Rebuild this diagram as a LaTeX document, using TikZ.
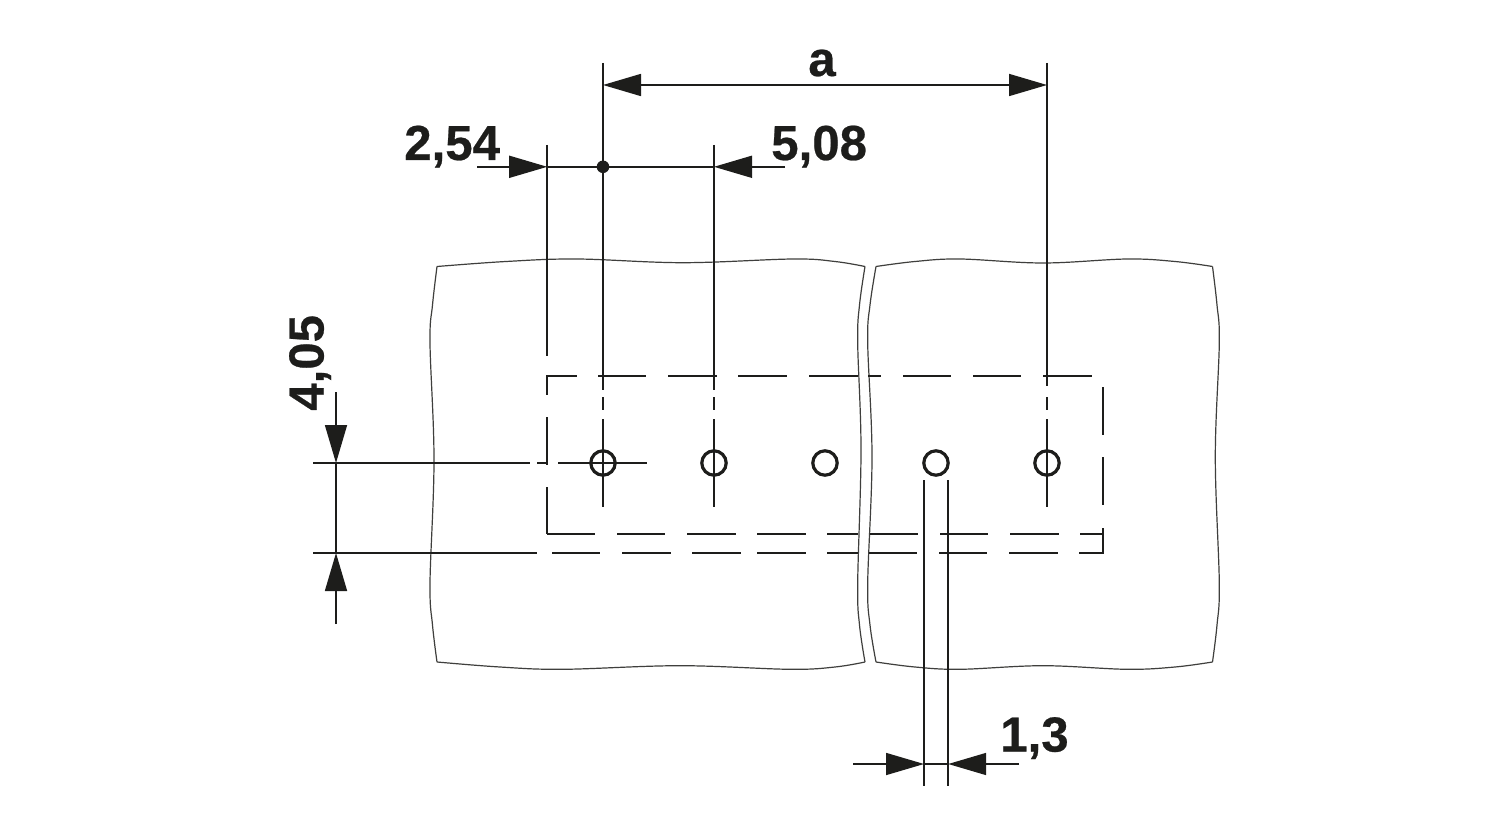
\documentclass[tikz,border=0pt]{standalone}
\usepackage{fontspec}
\setmainfont{Liberation Sans}
\newfontfamily\dimfont[BoldFeatures={FakeBold=0.5}]{Liberation Sans}
\usetikzlibrary{arrows.meta}
\definecolor{ink}{HTML}{1D1D1B}
\tikzset{
  dimline/.style={draw=ink,line width=1.2pt},
  dashseg/.style={draw=ink,line width=1.5pt},
  edgeline/.style={draw=ink!85,line width=0.9pt,line join=miter},
  hole/.style={draw=ink,line width=2.4pt},
  dimarrow/.style={dimline,-{Triangle[length=28.5pt,width=16.5pt]},shorten >=0pt},
  dimtext/.style={text=ink,inner sep=0pt,font=\fontsize{36.9pt}{40pt}\dimfont\bfseries}
}
\begin{document}
\begin{tikzpicture}[x=0.75pt,y=-0.75pt]
\useasboundingbox[fill=white] (0,0) rectangle (1500,820);

% left block outline
\draw[edgeline] plot[smooth,tension=.6] coordinates {(437,266.5) (506,261.5) (577,259) (683,262.7) (793,259) (835,261.5) (865,266.5)};
\draw[edgeline] plot[smooth,tension=.6] coordinates {(865,266.5) (859.5,305) (857.7,343) (861,450) (857.7,583) (859.5,625) (865,662)};
\draw[edgeline] plot[smooth,tension=.6] coordinates {(865,662) (835,667) (790,669.3) (680,665.7) (563,669.3) (500,667) (437,662)};
\draw[edgeline] plot[smooth,tension=.6] coordinates {(437,662) (432.5,625) (430,583) (434,460) (430,343) (432.5,305) (437,266.5)};
% right block outline
\draw[edgeline] plot[smooth,tension=.6] coordinates {(876,266.5) (915,261.5) (960,259) (1043,263) (1127,259) (1175,261.5) (1212.5,266.5)};
\draw[edgeline] plot[smooth,tension=.6] coordinates {(1212.5,266.5) (1217,305) (1219.3,343) (1215.3,457) (1219.3,583) (1217,625) (1212.5,662)};
\draw[edgeline] plot[smooth,tension=.6] coordinates {(1212.5,662) (1175,667) (1127,669.3) (1043,665.7) (960,669.3) (915,667) (876,662)};
\draw[edgeline] plot[smooth,tension=.6] coordinates {(876,662) (870,625) (867.7,583) (872,457) (867.7,343) (870,305) (876,266.5)};

% dashed outline of the footprint
\foreach \a/\b in {547/577,598/646,668/717,738/787,809/858,868/881,903/951,973/1021,1043/1092}
  \draw[dashseg] (\a,376) -- (\b,376);
\foreach \a/\b in {547/595,617/665,687/736,757/806,827/858,870/918,940/988,1010/1059,1080/1103}
  \draw[dashseg] (\a,533.5) -- (\b,533.5);
\foreach \a/\b in {552/600,622/671,692/741,757/806,827/858,869/917,939/987,1009/1058,1079/1103}
  \draw[dashseg] (\a,553) -- (\b,553);
\foreach \a/\b in {375.4/395,417/465,487/534.2}
  \draw[dashseg] (547.2,\a) -- (547.2,\b);
\foreach \a/\b in {387/435,457/505,528/553.6}
  \draw[dashseg] (1102.5,\a) -- (1102.5,\b);

% extension and centre lines
\draw[dimline] (547.2,145) -- (547.2,356);
\draw[dimline] (603,63) -- (603,390);
\draw[dimline] (603,397) -- (603,410);
\draw[dimline] (603,419) -- (603,507);
\draw[dimline] (714,145) -- (714,390);
\draw[dimline] (714,397) -- (714,410);
\draw[dimline] (714,419) -- (714,507);
\draw[dimline] (1047,63) -- (1047,386);
\draw[dimline] (1047,397) -- (1047,410);
\draw[dimline] (1047,419) -- (1047,507);
\draw[dimline] (313,463) -- (530,463);
\draw[dimline] (537,463) -- (547,463);
\draw[dimline] (558,463) -- (647,463);
\draw[dimline] (313,553) -- (537,553);
\draw[dimline] (924,480) -- (924,786);
\draw[dimline] (948.2,480) -- (948.2,786);

% holes
\foreach \x in {603,714,825,936,1047}
  \draw[hole] (\x,463) circle[radius=12.2];

% dimension a
\coordinate (aL) at (603,85);
\coordinate (aR) at (1047,85);
\draw[dimarrow,{Triangle[length=28.5pt,width=16.5pt]}-{Triangle[length=28.5pt,width=16.5pt]}] (aL) -- (aR);
\node[dimtext,anchor=base] (la) at (822,76) {a};

% dimensions 2,54 / 5,08
\coordinate (pL0) at (477,166.8);
\coordinate (pL1) at (547.2,166.8);
\coordinate (pR0) at (785,166.8);
\coordinate (pR1) at (714,166.8);
\coordinate (dot) at (603,166.8);
\draw[dimarrow] (pL0) -- (pL1);
\draw[dimarrow] (pR0) -- (pR1);
\draw[dimline] (pL1) -- (pR1);
\fill[ink] (dot) circle[radius=6.3];
\node[dimtext,anchor=base west] (l254) at (404,160) {2,54};
\node[dimtext,anchor=base west] (l508) at (771,160) {5,08};

% dimension 4,05
\coordinate (vT0) at (336,392);
\coordinate (vT1) at (336,463);
\coordinate (vB0) at (336,624);
\coordinate (vB1) at (336,553);
\draw[dimarrow] (vT0) -- (vT1);
\draw[dimarrow] (vB0) -- (vB1);
\draw[dimline] (vT1) -- (vB1);
\node[dimtext,anchor=base west,rotate=90] (l405) at (323.5,411) {4,05};

% dimension 1,3
\coordinate (wL0) at (853,764);
\coordinate (wL1) at (924,764);
\coordinate (wR0) at (1019,764);
\coordinate (wR1) at (948.2,764);
\draw[dimarrow] (wL0) -- (wL1);
\draw[dimarrow] (wR0) -- (wR1);
\draw[dimline] (wL1) -- (wR1);
\node[dimtext,anchor=base west] (l13) at (1000,751.5) {1,3};
\end{tikzpicture}
\end{document}
